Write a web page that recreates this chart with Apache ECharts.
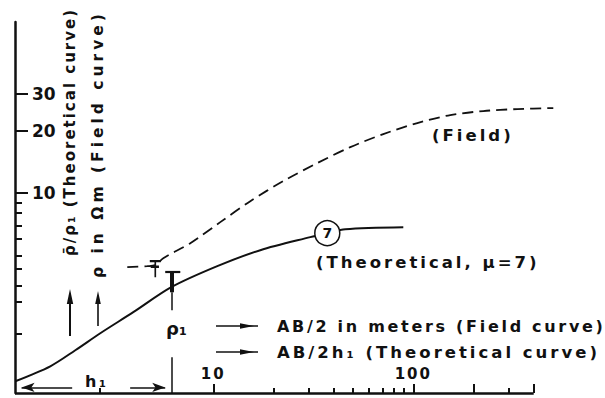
<!DOCTYPE html>
<html>
<head>
<meta charset="utf-8">
<script src="https://cdn.jsdelivr.net/npm/echarts@6/dist/echarts.min.js"></script>
<style>
  html, body { margin: 0; padding: 0; background: #fff; }
  #chart { width: 605px; height: 398px; }
  /* wide technical lettering; spacing keyed on the font size of each text group */
  #chart text { letter-spacing: 0; }
  #chart text[style*="15px"]   { letter-spacing: 2px; }
  #chart text[style*="15.5px"] { letter-spacing: 4px; }
  #chart text[style*="16px"]   { letter-spacing: 2.7px; }
  #chart text[style*="16.5px"] { letter-spacing: 3px; }
</style>
</head>
<body>
<div id="chart"></div>
<script>
// Resistivity sounding: theoretical two-layer curve (solid) and field curve (dashed), log-log.
const theoreticalAB  = [1.023, 1.531, 2.042, 2.723, 3.981, 6.166, 10.47, 17.18, 30.55, 37.15, 45.71, 89.13];
const theoreticalRho = [1.242, 1.466, 1.751, 2.115, 2.670, 3.524, 4.449, 5.312, 6.138, 6.416, 6.707, 6.858];
const fieldAB  = [3.715, 4.677, 5.129, 5.623, 7.674, 10.84, 15.31, 22.39, 33.11, 48.42, 70.79, 104.7, 153.1, 223.9, 331.1, 501.2];
const fieldRho = [4.40, 4.45, 4.50, 4.86, 5.74, 7.25, 9.15, 11.43, 13.95, 16.66, 19.25, 21.75, 23.76, 24.85, 25.40, 25.68];

const mu = 7;              // resistivity ratio of the theoretical curve
const muPoint = 9;         // index of the theoretical point carrying the circled μ
const fieldMarkPoint = 2;  // index of the field point carrying the cross mark

const h1 = 6.17;                           // AB/2 = h1
const rho1Span = [4.16, 3.33, 2.73, 1.62]; // ρ1 marker: top bar, below curve, label gap
const rho1Cap = [5.75, 6.84];
const hArrow = { y: 1.16, leftTail: 1.97, leftHead: 1.1, rightTail: 3.84, rightHead: 5.75 };

// the plotting area runs past the drawn abscissa line so the field curve can continue
const xRange = [1.02, 520];
const xAxisEnd = 400;
const yRange = [1.09, 66.7];
const xMajorTicks = [10, 100, 200, 400];
const xMinorTicks = [2.7, 20, 30, 40, 50, 60, 70, 80, 90, 300];
const xLabels = [10, 100];
const yMajorTicks = [10, 20, 30];
const yMinorTicks = [2.1, 3, 3.6, 4.3, 5, 6, 7, 8, 9];
const yLabels = [10, 20, 30];

const INK = '#111';
const FONT = '"DejaVu Sans", sans-serif';

const theoData = theoreticalAB.map((x, i) => {
  const v = [x, theoreticalRho[i]];
  if (i !== muPoint) return v;
  return {
    value: v,
    symbol: 'circle',
    symbolSize: 25,
    itemStyle: { color: '#fff', borderColor: INK, borderWidth: 1.5 },
    label: { show: true, position: 'inside', formatter: String(mu), color: INK,
             fontSize: 14, fontWeight: 'bold', fontFamily: FONT }
  };
});

const fieldData = fieldAB.map((x, i) => {
  const v = [x, fieldRho[i]];
  if (i !== fieldMarkPoint) return v;
  return {
    value: v,
    symbol: 'path://M0,0 L12,0 M6,0 L6,17 M1,6 L10,6',
    symbolSize: [11, 16],
    symbolOffset: [0, 4],
    itemStyle: { color: 'transparent', borderColor: INK, borderWidth: 2 }
  };
});

function logAxis(range, position, ticks, tickLen, labels, showLine, labelOpt) {
  return {
    type: 'log', logBase: 10, min: range[0], max: range[1], position,
    axisLine: { show: showLine, onZero: false, lineStyle: { color: INK, width: 2.5 } },
    axisTick: { show: true, inside: true, length: tickLen, customValues: ticks,
                lineStyle: { color: INK, width: 2 } },
    axisLabel: labels ? Object.assign({ show: true, inside: true, customValues: labels,
                formatter: v => String(v), color: INK, fontWeight: 'bold', fontFamily: FONT }, labelOpt)
              : { show: false },
    splitLine: { show: false },
    minorTick: { show: false },
    axisPointer: { show: false }
  };
}

const txt = (x, y, text, size, extra) => Object.assign({
  type: 'text', x, y, silent: true,
  style: { text, font: `bold ${size}px ${FONT}`, fill: INK,
           align: 'left', verticalAlign: 'middle', textAlign: 'left', textVerticalAlign: 'middle' }
}, extra || {});

const arrowHead = (tip, dir, len, half) => {
  const [x, y] = tip;
  const pts = dir === 'up' ? [[x, y], [x - half, y + len], [x + half, y + len]]
                           : [[x, y], [x - len, y - half], [x - len, y + half]];
  return { type: 'polygon', silent: true, shape: { points: pts }, style: { fill: INK } };
};
const seg = (x1, y1, x2, y2, w) => ({ type: 'line', silent: true,
  shape: { x1, y1, x2, y2 }, style: { stroke: INK, lineWidth: w } });

const chart = echarts.init(document.getElementById('chart'), null, { renderer: 'svg' });
chart.setOption({
  animation: false,
  backgroundColor: '#fff',
  grid: { left: 15, top: 22, width: 541.5, height: 371, containLabel: false, outerBoundsMode: 'none' },
  xAxis: [
    logAxis(xRange, 'bottom', xMajorTicks, 9, xLabels, false, { margin: 12, fontSize: 15 }),
    logAxis(xRange, 'bottom', xMinorTicks, 5, null, false)
  ],
  yAxis: [
    logAxis(yRange, 'left', yMajorTicks, 13, yLabels, true,
            { margin: 17, fontSize: 17, verticalAlign: 'middle' }),
    logAxis(yRange, 'left', yMinorTicks, 7, null, false)
  ],
  series: [
    {
      type: 'line', name: 'Theoretical', xAxisIndex: 0, yAxisIndex: 0,
      data: theoData, smooth: 0.3,
      symbol: 'none', showSymbol: true, silent: true,
      lineStyle: { color: INK, width: 2 }, itemStyle: { color: INK }, z: 3
    },
    {
      type: 'line', name: 'Field', xAxisIndex: 0, yAxisIndex: 0,
      data: fieldData, smooth: 0.3, clip: false,
      symbol: 'none', showSymbol: true, silent: true,
      lineStyle: { color: INK, width: 1.8, type: [11, 6] }, itemStyle: { color: INK }, z: 2
    },
    {
      type: 'line', name: 'h1 markers', xAxisIndex: 0, yAxisIndex: 0, data: [], silent: true,
      markLine: {
        silent: true, animation: false, symbol: 'none', symbolSize: [7, 13],
        label: { show: false }, emphasis: { disabled: true },
        lineStyle: { color: INK, type: 'solid', width: 1.5 },
        data: [
          // abscissa line
          [{ coord: [xRange[0], yRange[0]], lineStyle: { width: 2.5 } }, { coord: [xAxisEnd, yRange[0]] }],
          [{ coord: [h1, rho1Span[0]], lineStyle: { width: 4 } }, { coord: [h1, rho1Span[1]] }],
          [{ coord: [h1, rho1Span[1]] }, { coord: [h1, rho1Span[2]] }],
          [{ coord: [h1, rho1Span[3]] }, { coord: [h1, yRange[0]] }],
          [{ coord: [rho1Cap[0], rho1Span[0]], lineStyle: { width: 2.2 } }, { coord: [rho1Cap[1], rho1Span[0]] }],
          [{ coord: [hArrow.leftTail, hArrow.y], symbol: 'none' },
           { coord: [hArrow.leftHead, hArrow.y], symbol: 'arrow' }],
          [{ coord: [hArrow.rightTail, hArrow.y], symbol: 'none' },
           { coord: [hArrow.rightHead, hArrow.y], symbol: 'arrow' }]
        ]
      }
    }
  ],
  graphic: [
    txt(70, 256, 'ρ̄/ρ₁ (Theoretical curve)', 15, { rotation: Math.PI / 2 }),
    txt(98, 278, 'ρ in Ωm (Field curve)', 15.5, { rotation: Math.PI / 2 }),
    seg(70, 336, 70, 300, 2), arrowHead([70, 289], 'up', 15, 3.2),
    seg(98, 326, 98, 302, 1.6), arrowHead([98, 291], 'up', 13, 2.8),
    txt(432, 135, '(Field)', 16.5),
    txt(316, 262, `(Theoretical, μ=${mu})`, 16.5),
    txt(166, 328, 'ρ₁', 18),
    txt(85, 381, 'h₁', 16),
    seg(216, 326, 258, 326, 1.6), arrowHead([254, 326], 'right', 14, 2.8),
    txt(277, 326, 'AB/2 in meters (Field curve)', 16),
    seg(216, 352, 258, 352, 1.6), arrowHead([254, 352], 'right', 14, 2.8),
    txt(277, 352, 'AB/2h₁ (Theoretical curve)', 16.5)
  ]
});
</script>
</body>
</html>
